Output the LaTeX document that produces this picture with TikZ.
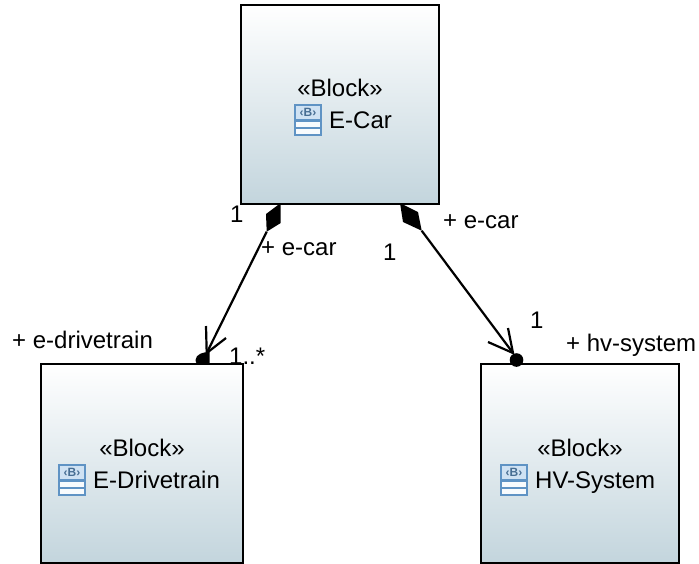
\documentclass[tikz,border=0pt]{standalone}
\usepackage{fontspec}
\setmainfont{Liberation Sans}
\definecolor{boxbot}{HTML}{C3D5DD}
\definecolor{iconblue}{HTML}{5F93C4}
\definecolor{iconfill}{HTML}{CFE2F3}
\tikzset{
  block/.style={draw=black,line width=2pt,minimum width=#1,minimum height=199pt,inner sep=0pt,top color=white,bottom color=boxbot,shading angle=0},
  txt/.style={inner sep=0pt,font=\fontsize{24}{26}\selectfont,text=black,anchor=base west},
  conn/.style={draw=black,line width=2.2pt},
  pics/blockicon/.style={code={
    \fill[iconblue] (0,0) rectangle (28,32);
    \fill[iconfill] (2,2) rectangle (26,15);
    \fill[white!85!iconfill] (2,17.5) rectangle (26,22.5);
    \fill[white!85!iconfill] (2,25) rectangle (26,30);
    \node[inner sep=0pt,text=iconblue!75!black,font=\fontsize{12}{12}\bfseries\selectfont] at (14,8.5) {‹B›};
  }}
}
\begin{document}
\begin{tikzpicture}[x=1pt,y=-1pt]
\useasboundingbox (0,0) rectangle (699,563);
\node[block=198pt] (car) at (340,104) {};
\node[block=202pt] (drive) at (142,463.5) {};
\node[block=198pt] (hv) at (580,463.5) {};
% block labels
\node[txt,anchor=base] (carS) at (340,96) {«Block»};
\node[txt] (carN) at (329,128) {E-Car};
\pic at (294,104) {blockicon};
\node[txt,anchor=base] (driS) at (142,456) {«Block»};
\node[txt] (driN) at (93,488) {E-Drivetrain};
\pic at (58,464) {blockicon};
\node[txt,anchor=base] (hvS) at (580,456) {«Block»};
\node[txt] (hvN) at (535,488) {HV-System};
\pic at (500,464) {blockicon};
% connector ends
\coordinate (a1) at (266.7,231.7);
\coordinate (a2) at (206.7,353);
\coordinate (b1) at (421.7,230.7);
\coordinate (b2) at (513,353);
% connectors
\draw[conn] (a1) -- (a2);
\draw[conn] (b1) -- (b2);
\draw[conn] (206,326) -- (a2) -- (226,338);
\draw[conn] (508,328) -- (b2) -- (488,342);
\fill (280.7,203) -- (266,214) -- (a1) -- (280.7,223) -- cycle;
\fill (400,203) -- (403,222) -- (b1) -- (418,212) -- cycle;
\fill (195.5,360) .. controls (196,354) and (203,352) .. (209.5,352) -- (209.5,364) -- (198,364) .. controls (196,363) and (195.5,362) .. (195.5,360) -- cycle;
\fill (516.5,360) circle (6.8);
% end labels
\node[txt] (l1) at (230,222) {1};
\node[txt] (l2) at (261,255) {+ e-car};
\node[txt] (l3) at (12,348) {+ e-drivetrain};
\node[txt] (l4) at (229,364) {1..*};
\node[txt] (l5) at (443,228) {+ e-car};
\node[txt] (l6) at (383,260) {1};
\node[txt] (l7) at (530,328) {1};
\node[txt] (l8) at (566,351) {+ hv-system};
\end{tikzpicture}
\end{document}
